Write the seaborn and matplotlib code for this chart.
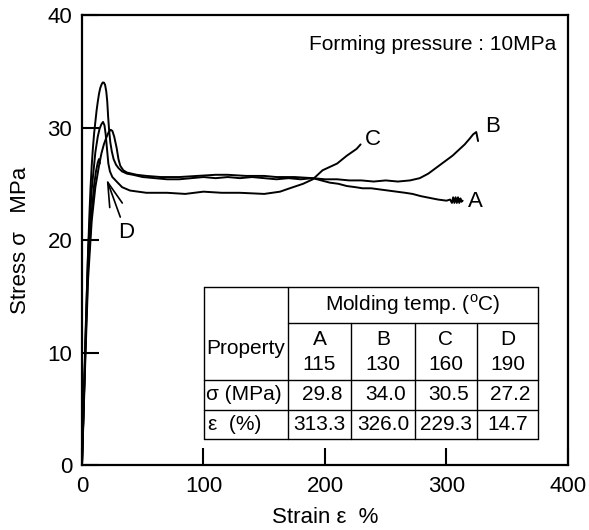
import pandas as pd
import matplotlib.pyplot as plt
import seaborn as sns

# Stress-strain curves (strain %, stress MPa)
strain_a = [0, 3, 5, 8, 11, 14, 16, 18, 20, 22, 23.6, 25, 26.5, 28.5, 30, 31.5, 34, 37, 45, 53,
            65, 80, 95, 110, 120, 135, 150, 160, 175, 190, 197, 204, 211, 218, 225, 231, 238,
            245, 252, 259, 266, 272, 279, 286, 293, 300, 303, 304.5, 305.5, 306.5, 307.5,
            308.5, 309.5, 310.5, 311.5, 312.3, 313.3]
stress_a = [0, 10.2, 16.5, 21.7, 24.7, 26.6, 27.7, 28.5, 29.1, 29.6, 29.8, 29.7, 29.2, 28.2, 27.2,
            26.6, 26.2, 26.0, 25.8, 25.7, 25.6, 25.6, 25.7, 25.8, 25.8, 25.7, 25.7, 25.6, 25.6,
            25.5, 25.3, 25.1, 25.0, 24.8, 24.7, 24.6, 24.6, 24.5, 24.4, 24.3, 24.2, 24.1, 23.9,
            23.75, 23.6, 23.5, 23.6, 23.3, 23.8, 23.3, 23.8, 23.3, 23.8, 23.3, 23.7, 23.4, 23.5]

strain_b = [0, 1, 2, 3, 4, 5, 6, 7, 8, 9, 10, 11, 12, 13, 14, 15, 16, 17, 18, 19, 20, 20.8, 21.5,
            22.3, 23.3, 24.5, 26, 28, 30, 33, 37, 42, 50, 60, 70, 80, 90, 100, 110, 120, 130,
            140, 150, 160, 170, 180, 190, 200, 210, 220, 230, 240, 250, 260, 270, 278, 285, 290,
            295, 300, 305, 310, 315, 319, 322, 324.5, 326]
stress_b = [0, 3.8, 7.6, 11.4, 15.2, 18.8, 22.0, 24.6, 26.6, 28.2, 29.5, 30.5, 31.5, 32.3, 33.0,
            33.5, 33.8, 34.0, 34.0, 33.8, 33.2, 32.3, 31.0, 29.8, 28.7, 27.9, 27.2, 26.7, 26.4,
            26.1, 25.9, 25.8, 25.6, 25.5, 25.4, 25.4, 25.5, 25.6, 25.5, 25.6, 25.5, 25.6, 25.5,
            25.4, 25.5, 25.4, 25.5, 25.4, 25.4, 25.3, 25.3, 25.2, 25.3, 25.2, 25.3, 25.5, 25.9,
            26.3, 26.7, 27.1, 27.5, 28.0, 28.5, 29.0, 29.4, 29.6, 28.8]

strain_c = [0, 3, 5, 8, 11, 13, 14.5, 16, 17.3, 18.5, 19.5, 20.5, 21.7, 23, 25, 28.5, 33, 39.5,
            53, 70, 85, 100, 115, 130, 150, 163, 171, 182, 190, 198, 210, 218, 226, 229.3]
stress_c = [0, 12.0, 19.0, 24.5, 27.8, 29.2, 29.9, 30.3, 30.5, 30.2, 29.4, 28.2, 26.8, 26.1, 25.6,
            25.2, 24.7, 24.4, 24.2, 24.2, 24.1, 24.3, 24.2, 24.2, 24.1, 24.3, 24.6, 25.0, 25.4,
            26.2, 26.8, 27.5, 28.1, 28.5]

strain_d = [0, 3, 5, 8, 10, 11.5, 13, 14, 14.7]
stress_d = [0, 11.0, 17.5, 22.5, 24.9, 26.1, 26.9, 27.2, 26.8]

samples = ["A", "B", "C", "D"]
temps = ["115", "130", "160", "190"]
sigma_vals = ["29.8", "34.0", "30.5", "27.2"]
eps_vals = ["313.3", "326.0", "229.3", "14.7"]

# curve label positions (strain, stress)
label_x = [324, 338, 239.5, 36]
label_y = [23.4, 30.1, 28.9, 20.7]

sns.set_theme(style="ticks")
plt.rcParams["font.family"] = ["Liberation Sans", "DejaVu Sans"]
plt.rcParams["mathtext.fontset"] = "custom"
plt.rcParams["mathtext.rm"] = "Liberation Sans"
plt.rcParams.update({"text.color": "black", "axes.labelcolor": "black",
                     "xtick.color": "black", "ytick.color": "black"})


def main():
    frames = []
    for name, xs, ys in zip(samples, [strain_a, strain_b, strain_c, strain_d],
                            [stress_a, stress_b, stress_c, stress_d]):
        frames.append(pd.DataFrame({"strain": xs, "stress": ys, "sample": name}))
    df = pd.concat(frames, ignore_index=True)

    fig = plt.figure(figsize=(5.89, 5.30), dpi=100)
    ax = fig.add_axes([0.1392, 0.1226, 0.8251, 0.849])

    sns.lineplot(data=df, x="strain", y="stress", hue="sample",
                 palette=["black"] * 4, sort=False, estimator=None,
                 legend=False, linewidth=1.4, ax=ax)

    ax.set_xlim(0, 400)
    ax.set_ylim(0, 40)
    ax.set_xticks([0, 100, 200, 300, 400])
    ax.set_yticks([0, 10, 20, 30, 40])
    ax.tick_params(direction="in", length=12, width=1.5, labelsize=16)
    ax.tick_params(axis="x", pad=8)
    ax.tick_params(axis="y", pad=7)
    for s in ax.spines.values():
        s.set_linewidth(1.6)
        s.set_color("black")

    ax.set_xlabel("Strain ε  %", fontsize=16, labelpad=7)
    ax.set_ylabel("Stress σ   MPa", fontsize=16, labelpad=12)

    ax.text(0.975, 0.935, "Forming pressure : 10MPa", transform=ax.transAxes,
            ha="right", va="center", fontsize=15)

    # curve labels
    for name, lx, ly in zip(samples[:3], label_x[:3], label_y[:3]):
        ax.text(lx, ly, name, ha="center", va="center", fontsize=16)
    ax.annotate("D", xy=(20.3, 25.4), xytext=(label_x[3], label_y[3]),
                ha="center", va="center", fontsize=16,
                arrowprops=dict(arrowstyle="->,head_length=1.1,head_width=0.3",
                                color="black", lw=1.2, shrinkA=1, shrinkB=0))

    # property table (data coordinates)
    cols = [100.4, 169.5, 221.4, 274.1, 325.1, 375.3]
    rows = [15.82, 12.62, 7.56, 4.93, 2.31]
    lw = 1.0
    ax.plot([cols[0], cols[-1]], [rows[0], rows[0]], color="black", lw=lw)
    ax.plot([cols[0], cols[-1]], [rows[-1], rows[-1]], color="black", lw=lw)
    ax.plot([cols[1], cols[-1]], [rows[1], rows[1]], color="black", lw=lw)
    for r in rows[2:4]:
        ax.plot([cols[0], cols[-1]], [r, r], color="black", lw=lw)
    ax.plot([cols[0], cols[0]], [rows[0], rows[-1]], color="black", lw=lw)
    ax.plot([cols[1], cols[1]], [rows[0], rows[-1]], color="black", lw=lw)
    ax.plot([cols[-1], cols[-1]], [rows[0], rows[-1]], color="black", lw=lw)
    for c in cols[2:5]:
        ax.plot([c, c], [rows[1], rows[-1]], color="black", lw=lw)

    fs = 15
    ax.text((cols[1] + cols[-1]) / 2, (rows[0] + rows[1]) / 2,
            "Molding temp. ($^{\\rm o}$C)", ha="center", va="center", fontsize=fs)
    ax.text(cols[0] + 1.5, (rows[1] + rows[2]) / 2 + 0.3, "Property",
            ha="left", va="center", fontsize=fs)
    ax.text(cols[0] + 2.0, (rows[2] + rows[3]) / 2, "σ (MPa)",
            ha="left", va="center", fontsize=fs)
    ax.text(cols[0] + 3.5, (rows[3] + rows[4]) / 2, "ε  (%)",
            ha="left", va="center", fontsize=fs)
    for i in range(4):
        cx = (cols[i + 1] + cols[i + 2]) / 2
        ax.text(cx, (rows[1] + rows[2]) / 2, samples[i] + "\n" + temps[i],
                ha="center", va="center", fontsize=fs, linespacing=1.4)
        ax.text(cx + 2.5, (rows[2] + rows[3]) / 2, sigma_vals[i],
                ha="center", va="center", fontsize=fs)
        ax.text(cx, (rows[3] + rows[4]) / 2, eps_vals[i],
                ha="center", va="center", fontsize=fs)

    fig.savefig("out.png", dpi=100)
    plt.close(fig)


if __name__ == "__main__":
    main()
